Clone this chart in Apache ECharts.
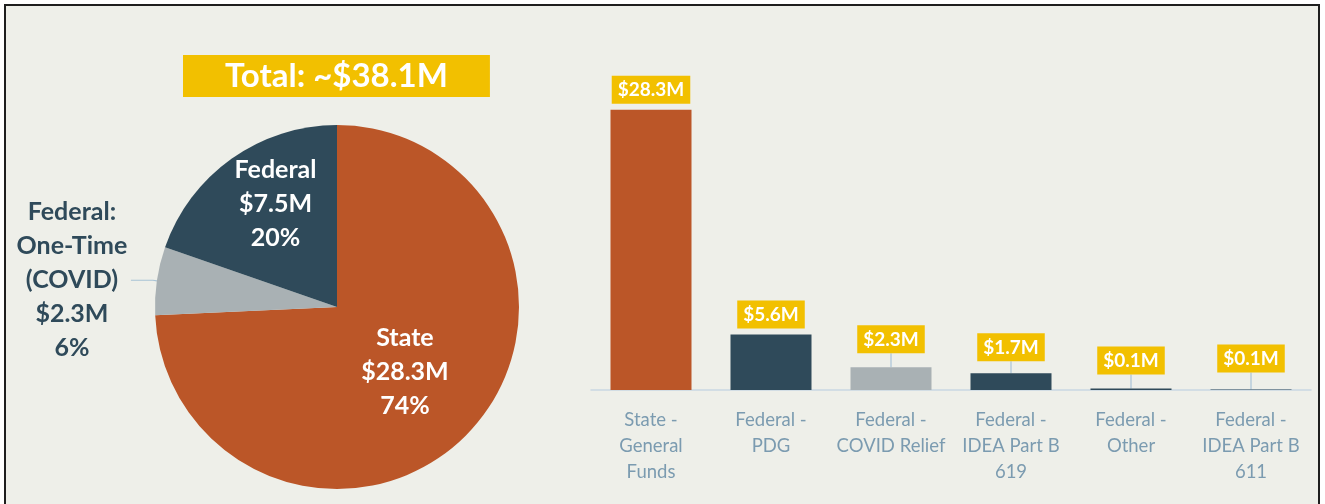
<!DOCTYPE html>
<html>
<head>
<meta charset="utf-8">
<script src="https://cdn.jsdelivr.net/npm/echarts@6/dist/echarts.min.js"></script>
<style>
  html, body { margin: 0; padding: 0; background: #ffffff; }
  #chart { width: 1325px; height: 504px; }
</style>
</head>
<body>
<div id="chart"></div>
<script>
// pie: funding by source ($M)
const pieNames = ['State', 'Federal:\nOne-Time\n(COVID)', 'Federal'];
const pieValues = [28.3, 2.3, 7.5];

// bars: funding by stream ($M)
const barCategories = [
  'State -\nGeneral\nFunds',
  'Federal -\nPDG',
  'Federal -\nCOVID Relief',
  'Federal -\nIDEA Part B\n619',
  'Federal -\nOther',
  'Federal -\nIDEA Part B\n611'
];
const barValues = [28.3, 5.6, 2.3, 1.7, 0.14, 0.06];

const totalText = 'Total: ~$38.1M';

const ORANGE = '#bb5628';
const NAVY = '#2f4a5a';
const GREY = '#a9b1b4';
const YELLOW = '#f2c000';
const pieColors = [ORANGE, GREY, NAVY];
const barColors = [ORANGE, NAVY, GREY, NAVY, NAVY, NAVY];
// how far each callout sits above its bar (px), like the Excel callouts
const labelLift = [0, 0, 8, 6, 8, 11];

const money = v => '$' + v.toFixed(1) + 'M';
const FONT = 'Lato, "Open Sans", sans-serif';

const chart = echarts.init(document.getElementById('chart'));

chart.setOption({
  backgroundColor: '#ffffff',
  animation: false,
  graphic: [{
    type: 'rect',
    z: -10,
    shape: { x: 5, y: 5, width: 1314, height: 530 },
    style: { fill: '#eeefe9', stroke: '#1e1e1e', lineWidth: 2 }
  }],
  title: {
    text: totalText,
    left: 183,
    top: 55,
    padding: [4, 42],
    backgroundColor: YELLOW,
    textStyle: {
      color: '#ffffff',
      fontFamily: FONT,
      fontWeight: 'bold',
      fontSize: 33,
      lineHeight: 34
    }
  },
  grid: { left: 591, right: 14, top: 93, bottom: 114 },
  xAxis: {
    type: 'category',
    data: barCategories,
    axisTick: { show: false },
    axisLine: { lineStyle: { color: '#c9d8e2', width: 1.5 } },
    axisLabel: {
      interval: 0,
      margin: 17,
      color: '#7b9bb0',
      fontFamily: FONT,
      fontSize: 18.5,
      lineHeight: 26
    }
  },
  yAxis: {
    type: 'value',
    min: 0,
    max: 30,
    show: false,
    splitLine: { show: false }
  },
  series: [
    {
      type: 'pie',
      center: [337, 307],
      radius: 182,
      startAngle: 90,
      clockwise: true,
      avoidLabelOverlap: false,
      data: pieNames.map((name, i) => ({
        name: name,
        value: pieValues[i],
        itemStyle: { color: pieColors[i] },
        label: i === 1
          ? { position: 'outside', color: NAVY }
          : { position: 'inside', color: '#ffffff' },
        labelLine: { show: i === 1 }
      })),
      label: {
        fontFamily: FONT,
        fontWeight: 'bold',
        fontSize: 25,
        lineHeight: 34,
        distanceToLabelLine: 0,
        formatter: p => {
          const lines = p.name.split('\n').concat([money(p.value), Math.round(p.percent) + '%']);
          if (p.dataIndex === 1) {
            return lines.map(l => '{c|' + l + '}').join('\n');
          }
          return lines.join('\n');
        },
        rich: {
          c: {
            width: 118,
            align: 'center',
            color: NAVY,
            fontFamily: FONT,
            fontWeight: 'bold',
            fontSize: 25,
            lineHeight: 34
          }
        }
      },
      labelLine: {
        length: 4,
        length2: 22,
        lineStyle: { color: '#a8c3d5', width: 1.2 }
      },
      labelLayout: p => (p.dataIndex === 2 ? { dx: -7, dy: -26 } : {})
    },
    {
      type: 'bar',
      data: barValues.map((v, i) => ({
        value: v,
        itemStyle: { color: barColors[i] },
        labelLine: { show: labelLift[i] > 0 }
      })),
      barWidth: 81,
      label: {
        show: true,
        position: 'top',
        distance: 6,
        formatter: p => money(p.value),
        color: '#ffffff',
        backgroundColor: YELLOW,
        padding: [4, 6, 3, 6],
        fontFamily: FONT,
        fontWeight: 'bold',
        fontSize: 19,
        lineHeight: 21
      },
      labelLine: {
        lineStyle: { color: '#b7cddb', width: 1.5 }
      },
      labelLayout: p => {
        const lift = labelLift[p.dataIndex];
        return lift ? { dy: -lift } : {};
      }
    }
  ]
});
</script>
</body>
</html>
